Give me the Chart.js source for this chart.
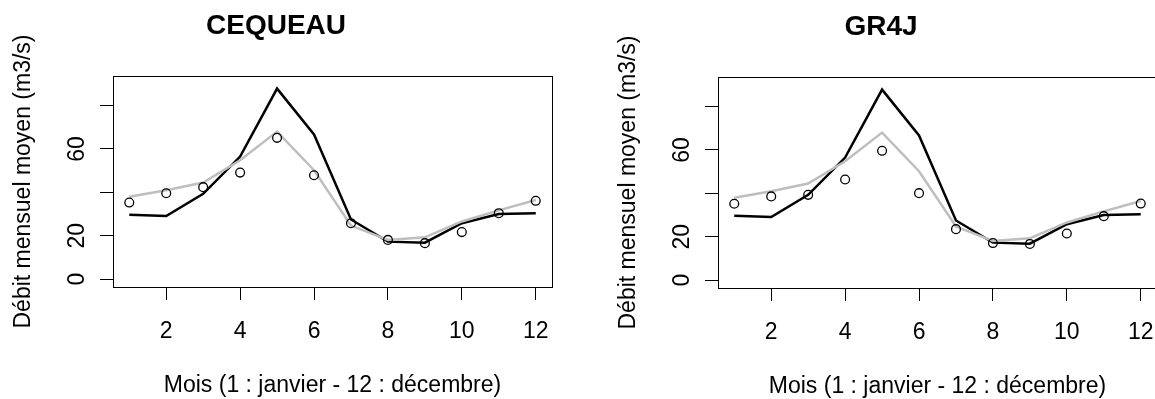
<!DOCTYPE html>
<html>
<head>
<meta charset="utf-8">
<script src="https://cdn.jsdelivr.net/npm/chart.js@4/dist/chart.umd.min.js"></script>
<style>
  html, body { margin: 0; padding: 0; background: #fff; overflow: hidden; }
  body { width: 1155px; height: 399px; position: relative; }
  .panel { position: absolute; top: 0; width: 578px; height: 399px; }
</style>
</head>
<body>
<div class="panel" style="left:0"><canvas id="left"></canvas></div>
<div class="panel" style="left:605px;top:1px"><canvas id="right"></canvas></div>
<script>
const months = [1, 2, 3, 4, 5, 6, 7, 8, 9, 10, 11, 12];
const xTicks = [2, 4, 6, 8, 10, 12];
const yTicks = [0, 20, 40, 60, 80];
const yTickLabels = ["0", "20", "", "60", ""];

// black and grey lines are the same in both panels
const lineBlack = [29.7, 29.1, 39.3, 56.5, 87.8, 66.7, 27.5, 17.3, 16.8, 25.8, 30.0, 30.4];
const lineGrey = [38.0, 41.0, 44.5, 54.8, 68.0, 50.2, 24.7, 18.1, 19.3, 26.6, 31.7, 36.5];
const pointsCequeau = [35.3, 39.6, 42.4, 49.1, 65.1, 47.9, 25.8, 18.1, 16.6, 21.7, 30.4, 36.1];
const pointsGr4j = [35.2, 38.6, 39.3, 46.4, 59.6, 40.1, 23.5, 17.1, 16.7, 21.5, 29.5, 35.3];

const FONT = "'Liberation Sans', Arial, Helvetica, sans-serif";

const boxPlugin = {
  id: "box",
  afterDraw(chart) {
    const { ctx, chartArea: a } = chart;
    ctx.save();
    ctx.strokeStyle = "#000";
    ctx.lineWidth = 1;
    ctx.strokeRect(a.left + 0.5, a.top + 0.5, a.right - a.left, a.bottom - a.top);
    ctx.restore();
  },
};

function pts(values) {
  return months.map((m, i) => ({ x: m, y: values[i] }));
}

function makeChart(id, title, points) {
  new Chart(document.getElementById(id), {
    type: "line",
    data: {
      datasets: [
        {
          data: pts(points),
          showLine: false,
          pointRadius: 4.4,
          pointBorderWidth: 1.3,
          pointBorderColor: "#000",
          pointBackgroundColor: "rgba(0,0,0,0)",
          order: 0,
        },
        {
          data: pts(lineGrey),
          borderColor: "#bebebe",
          borderWidth: 2.5,
          pointRadius: 0,
          tension: 0,
          order: 1,
        },
        {
          data: pts(lineBlack),
          borderColor: "#000",
          borderWidth: 2.5,
          pointRadius: 0,
          tension: 0,
          order: 2,
        },
      ],
    },
    options: {
      responsive: false,
      animation: false,
      layout: { padding: { left: 0, right: 26, top: 0, bottom: 0 } },
      plugins: {
        legend: { display: false },
        tooltip: { enabled: false },
        title: {
          display: true,
          text: title,
          color: "#000",
          font: { family: FONT, size: 28, weight: "bold" },
          padding: { top: 9, bottom: 33.4 },
        },
      },
      scales: {
        x: {
          type: "linear",
          min: 0.56,
          max: 12.44,
          afterBuildTicks(s) { s.ticks = xTicks.map((v) => ({ value: v })); },
          afterFit(s) { s.height = 112; },
          grid: { drawOnChartArea: false, drawTicks: true, tickLength: 13, tickColor: "#000", tickWidth: 1 },
          border: { display: false },
          ticks: { color: "#000", padding: 18, maxRotation: 0, font: { family: FONT, size: 23 } },
          title: {
            display: true,
            text: "Mois (1 : janvier - 12 : décembre)",
            color: "#000",
            font: { family: FONT, size: 23 },
            padding: { top: 0, bottom: 0 },
          },
        },
        y: {
          type: "linear",
          min: -3.6,
          max: 93.6,
          afterBuildTicks(s) { s.ticks = yTicks.map((v) => ({ value: v })); },
          afterFit(s) { s.width = 113; },
          grid: { drawOnChartArea: false, drawTicks: true, tickLength: 13, tickColor: "#000", tickWidth: 1 },
          border: { display: false },
          ticks: {
            color: "#000",
            padding: 9.7,
            minRotation: 90,
            maxRotation: 90,
            crossAlign: "center",
            font: { family: FONT, size: 23 },
            callback: (v) => yTickLabels[yTicks.indexOf(v)] ?? "",
          },
          title: {
            display: true,
            text: "Débit mensuel moyen (m3/s)",
            color: "#000",
            font: { family: FONT, size: 23 },
            padding: { top: 10, bottom: 0 },
          },
        },
      },
    },
    plugins: [boxPlugin],
  });
}

document.getElementById("left").width = 578;
document.getElementById("left").height = 399;
document.getElementById("right").width = 578;
document.getElementById("right").height = 399;

makeChart("left", "CEQUEAU", pointsCequeau);
makeChart("right", "GR4J", pointsGr4j);
</script>
</body>
</html>
